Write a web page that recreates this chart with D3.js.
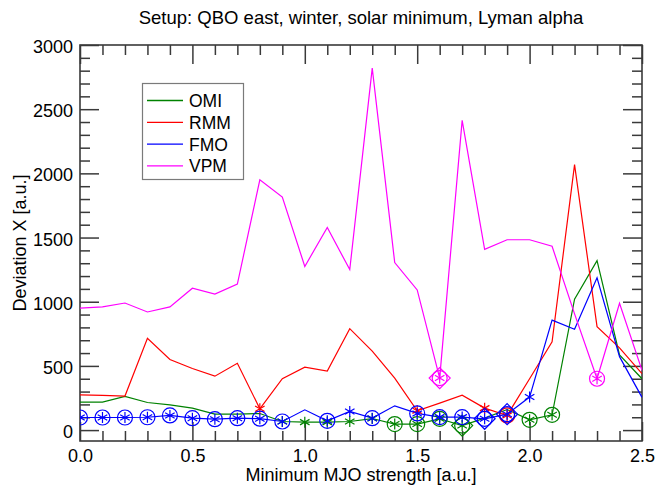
<!DOCTYPE html>
<html>
<head>
<meta charset="utf-8">
<script src="https://cdn.jsdelivr.net/npm/d3@7"></script>
<style>
  html, body { margin: 0; padding: 0; background: #fff; }
  svg { display: block; font-family: "Liberation Sans", Arial, Helvetica, sans-serif; }
</style>
</head>
<body>
<svg id="chart" width="656" height="485"></svg>
<script>
// Minimum MJO strength thresholds
const strength = [0.0, 0.1, 0.2, 0.3, 0.4, 0.5, 0.6, 0.7, 0.8, 0.9, 1.0, 1.1, 1.2,
                  1.3, 1.4, 1.5, 1.6, 1.7, 1.8, 1.9, 2.0, 2.1, 2.2, 2.3, 2.4, 2.5];

// Deviation X for each MJO index
const omi = [218, 218, 262, 215, 197, 171, 124, 124, 129, 67, 62, 62, 67,
             90, 47, 47, 88, 35, 93, 160, 80, 119, 1020, 1320, 585, 400];
const rmm = [275, 270, 265, 715, 550, 480, 420, 520, 166, 400, 490, 460, 790,
             615, 405, 150, 210, 272, 171, 114, 400, 688, 2068, 806, 640, 440];
const fmo = [98, 98, 98, 100, 114, 93, 85, 93, 89, 67, 158, 72, 145,
             93, 189, 130, 101, 101, 88, 124, 257, 857, 785, 1187, 572, 255];
const vpm = [950, 960, 990, 920, 960, 1105, 1060, 1137, 1950, 1815, 1275, 1578, 1250,
             2820, 1305, 1092, 405, 2413, 1408, 1483, 1483, 1432, 905, 400, 988, 465];

// Significance markers: 0 none, 1 asterisk, 2 circle + asterisk, 3 diamond + circle + asterisk
const omiMarks = [0,0,0,0,0,0,0,0,0,1,1,1,1,1,2,2,2,3,0,0,2,2,0,0,0,0];
const rmmMarks = [0,0,0,0,0,0,0,0,1,0,0,0,0,0,0,1,0,0,1,2,0,0,0,0,0,0];
const fmoMarks = [2,2,2,2,2,2,2,2,2,2,0,2,1,2,0,2,2,2,3,3,1,0,0,0,0,0];
const vpmMarks = [0,0,0,0,0,0,0,0,0,0,0,0,0,0,0,0,3,0,0,0,0,0,0,2,0,0];

const seriesNames = ["OMI", "RMM", "FMO", "VPM"];
const seriesColors = ["#008200", "#ff0000", "#0000ff", "#ff00ff"];

const xTicks = [0.0, 0.5, 1.0, 1.5, 2.0, 2.5];
const yTicks = [0, 500, 1000, 1500, 2000, 2500, 3000];

const titleText = "Setup: QBO east, winter, solar minimum, Lyman alpha";
const xTitle = "Minimum MJO strength [a.u.]";
const yTitle = "Deviation X [a.u.]";

const series = [
  { name: seriesNames[0], color: seriesColors[0], values: omi, marks: omiMarks },
  { name: seriesNames[1], color: seriesColors[1], values: rmm, marks: rmmMarks },
  { name: seriesNames[2], color: seriesColors[2], values: fmo, marks: fmoMarks },
  { name: seriesNames[3], color: seriesColors[3], values: vpm, marks: vpmMarks }
];

const svg = d3.select("#chart");
const plotL = 80, plotR = 642, plotT = 45, plotB = 441;

const x = d3.scaleLinear().domain([0, 2.5]).range([plotL, plotR]);
const y = d3.scaleLinear().domain([-85, 3000]).range([plotB, plotT]);

const axisColor = "#3a3a3a";
const minorX = d3.range(0, 26).map(i => i / 10).filter(v => Math.round(v * 10) % 5 !== 0);
const minorY = d3.range(0, 31).map(i => i * 100).filter(v => v % 500 !== 0);

svg.append("defs").append("clipPath").attr("id", "plotClip")
  .append("rect").attr("x", plotL).attr("y", plotT).attr("width", plotR - plotL).attr("height", plotB - plotT);

function styleAxis(g) {
  g.select(".domain").remove();
  g.selectAll(".tick line").attr("stroke", axisColor).attr("stroke-width", 1.5);
  g.selectAll(".tick text").attr("fill", "#000").style("font-size", "18px")
    .style("font-family", "'Liberation Sans', Arial, sans-serif");
}

// Bottom axis: labelled majors, minors, ticks pointing inward
svg.append("g").attr("transform", `translate(0,${plotB})`)
  .call(d3.axisBottom(x).tickValues(xTicks).tickSize(-19).tickFormat(d3.format(".1f")))
  .call(styleAxis)
  .call(g => g.selectAll(".tick text").attr("dy", null).attr("y", 21));
svg.append("g").attr("transform", `translate(0,${plotB})`)
  .call(d3.axisBottom(x).tickValues(minorX).tickSize(-10).tickFormat(""))
  .call(styleAxis);

// Top axis (ticks only)
svg.append("g").attr("transform", `translate(0,${plotT})`)
  .call(d3.axisTop(x).tickValues(xTicks).tickSize(-19).tickFormat(""))
  .call(styleAxis);
svg.append("g").attr("transform", `translate(0,${plotT})`)
  .call(d3.axisTop(x).tickValues(minorX).tickSize(-10).tickFormat(""))
  .call(styleAxis);

// Left axis
svg.append("g").attr("transform", `translate(${plotL},0)`)
  .call(d3.axisLeft(y).tickValues(yTicks).tickSize(-19).tickFormat(d3.format("d")))
  .call(styleAxis)
  .call(g => g.selectAll(".tick text").attr("x", -7).attr("dy", "0.42em"));
svg.append("g").attr("transform", `translate(${plotL},0)`)
  .call(d3.axisLeft(y).tickValues(minorY).tickSize(-10).tickFormat(""))
  .call(styleAxis);

// Right axis (ticks only)
svg.append("g").attr("transform", `translate(${plotR},0)`)
  .call(d3.axisRight(y).tickValues(yTicks).tickSize(-19).tickFormat(""))
  .call(styleAxis);
svg.append("g").attr("transform", `translate(${plotR},0)`)
  .call(d3.axisRight(y).tickValues(minorY).tickSize(-10).tickFormat(""))
  .call(styleAxis);

// Frame
svg.append("rect").attr("x", plotL).attr("y", plotT)
  .attr("width", plotR - plotL).attr("height", plotB - plotT)
  .attr("fill", "none").attr("stroke", axisColor).attr("stroke-width", 1.6);

// Series lines
const line = d3.line().x((d, i) => x(strength[i])).y(d => y(d));
const plot = svg.append("g").attr("clip-path", "url(#plotClip)");

series.forEach(s => {
  plot.append("path").datum(s.values)
    .attr("d", line)
    .attr("fill", "none")
    .attr("stroke", s.color)
    .attr("stroke-width", 1.2)
    .attr("stroke-linejoin", "miter");
});

// Asterisk path centred on (0,0)
function asterisk(r) {
  const p = d3.path();
  [90, 30, 150].forEach(a => {
    const rad = a * Math.PI / 180;
    p.moveTo(-r * Math.cos(rad), -r * Math.sin(rad));
    p.lineTo(r * Math.cos(rad), r * Math.sin(rad));
  });
  return p.toString();
}

series.forEach(s => {
  const g = plot.append("g");
  s.values.forEach((v, i) => {
    const m = s.marks[i];
    if (!m) return;
    const cx = x(strength[i]), cy = y(v);
    const mg = g.append("g").attr("transform", `translate(${cx},${cy})`)
      .attr("fill", "none").attr("stroke", s.color).attr("stroke-width", 1.2);
    mg.append("path").attr("d", asterisk(5.5));
    if (m >= 2) mg.append("circle").attr("r", 7.5);
    if (m >= 3) mg.append("path").attr("d", "M0,-10.5L10.5,0L0,10.5L-10.5,0Z");
  });
});

// Legend
const legend = svg.append("g");
legend.append("rect").attr("x", 142.5).attr("y", 83.5).attr("width", 101).attr("height", 96)
  .attr("fill", "#fff").attr("stroke", "#7a7a7a").attr("stroke-width", 1.2);
series.forEach((s, i) => {
  const ly = 100.5 + i * 21.8;
  legend.append("line").attr("x1", 147).attr("x2", 183).attr("y1", ly).attr("y2", ly)
    .attr("stroke", s.color).attr("stroke-width", 1.3);
  legend.append("text").attr("x", 189).attr("y", ly + 6.5)
    .style("font-size", "17.5px").attr("fill", "#000").text(s.name);
});

// Titles
svg.append("text").attr("x", 361).attr("y", 24).attr("text-anchor", "middle")
  .style("font-size", "18.5px").attr("fill", "#000").text(titleText);
svg.append("text").attr("x", 361).attr("y", 481).attr("text-anchor", "middle")
  .style("font-size", "18px").attr("fill", "#000").text(xTitle);
svg.append("text").attr("transform", `translate(26,243) rotate(-90)`).attr("text-anchor", "middle")
  .style("font-size", "18px").attr("fill", "#000").text(yTitle);
</script>
</body>
</html>
